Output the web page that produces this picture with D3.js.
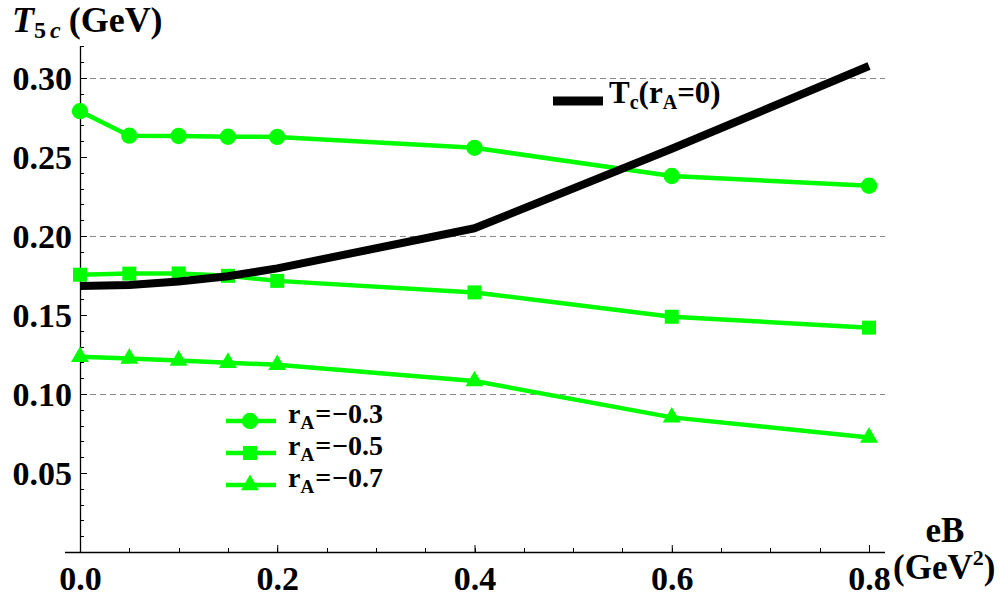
<!DOCTYPE html>
<html>
<head>
<meta charset="utf-8">
<script src="https://cdn.jsdelivr.net/npm/d3@7"></script>
<style>
  body { margin: 0; background: #fff; }
  svg text { font-family: "Liberation Serif", "Times New Roman", Times, serif; font-weight: bold; }
</style>
</head>
<body>
<div id="chart"></div>
<script>
(function() {
  'use strict';

  var eB = [0, 0.05, 0.1, 0.15, 0.2, 0.4, 0.6, 0.8];
  var rA03 = [0.279, 0.2635, 0.2633, 0.2628, 0.2627, 0.2558, 0.2380, 0.2318];
  var rA05 = [0.1755, 0.1762, 0.1763, 0.1748, 0.1716, 0.1643, 0.1489, 0.1420];
  var rA07 = [0.1235, 0.1225, 0.1212, 0.1198, 0.1185, 0.1082, 0.0852, 0.0725];
  var tc0  = [0.1684, 0.1690, 0.1712, 0.1745, 0.1795, 0.2049, 0.2552, 0.3076];
  var xTicks = [0, 0.2, 0.4, 0.6, 0.8];
  var yTicks = [0.05, 0.10, 0.15, 0.20, 0.25, 0.30];
  var gridY = [0.10, 0.20, 0.30];
  var legendLabels = ["\u22120.3", "\u22120.5", "\u22120.7"];

  var width = 1000;
  var height = 597;
  var green = "#00ff00";
  var serif = "'Liberation Serif', 'Times New Roman', Times, serif";

  var x = d3.scaleLinear().domain([0, 0.8]).range([80, 869]);
  var y = d3.scaleLinear().domain([0, 0.3]).range([552, 78]);

  var svg = d3.select("#chart")
    .append("svg")
    .attr("width", width)
    .attr("height", height);

  // grid lines
  svg.append("g")
    .selectAll("line")
    .data(gridY)
    .enter().append("line")
    .attr("x1", x(0))
    .attr("x2", 885)
    .attr("y1", function (d) { return Math.round(y(d)) + 0.5; })
    .attr("y2", function (d) { return Math.round(y(d)) + 0.5; })
    .attr("stroke", "#888")
    .attr("stroke-width", 1)
    .attr("stroke-dasharray", "6,4");

  // minor ticks
  var yMinor = d3.range(0.01, 0.325, 0.01);
  svg.append("g")
    .selectAll("line")
    .data(yMinor)
    .enter().append("line")
    .attr("x1", x(0))
    .attr("x2", x(0) + 4)
    .attr("y1", function (d) { return Math.round(y(d)) + 0.5; })
    .attr("y2", function (d) { return Math.round(y(d)) + 0.5; })
    .attr("stroke", "#000")
    .attr("stroke-width", 1);

  var xMinor = d3.range(0.05, 0.81, 0.05);
  svg.append("g")
    .selectAll("line")
    .data(xMinor)
    .enter().append("line")
    .attr("x1", function (d) { return Math.round(x(d)) + 0.5; })
    .attr("x2", function (d) { return Math.round(x(d)) + 0.5; })
    .attr("y1", y(0))
    .attr("y2", y(0) - 4)
    .attr("stroke", "#000")
    .attr("stroke-width", 1);

  // axes
  var yAxis = d3.axisLeft(y)
    .tickValues(yTicks)
    .tickFormat(d3.format(".2f"))
    .tickSizeInner(-7)
    .tickSizeOuter(0)
    .tickPadding(8);

  var gy = svg.append("g")
    .attr("transform", "translate(" + x(0) + ",0)")
    .call(yAxis);
  gy.select(".domain").remove();
  gy.selectAll("text")
    .attr("font-size", 34)
    .attr("font-family", serif)
    .attr("font-weight", "bold")
    .attr("fill", "#000")
    .attr("dy", "0.34em");

  var xAxis = d3.axisBottom(x)
    .tickValues(xTicks)
    .tickFormat(d3.format(".1f"))
    .tickSizeInner(-7)
    .tickSizeOuter(0)
    .tickPadding(10);

  var gx = svg.append("g")
    .attr("transform", "translate(0," + y(0) + ")")
    .call(xAxis);
  gx.select(".domain").remove();
  gx.selectAll("text")
    .attr("font-size", 34)
    .attr("font-family", serif)
    .attr("font-weight", "bold")
    .attr("fill", "#000")
    .attr("dy", "0.83em");

  svg.append("line")
    .attr("x1", x(0) + 0.5).attr("x2", x(0) + 0.5)
    .attr("y1", 46).attr("y2", y(0))
    .attr("stroke", "#000").attr("stroke-width", 1.3);

  svg.append("line")
    .attr("x1", 65).attr("x2", 885)
    .attr("y1", y(0) + 0.5).attr("y2", y(0) + 0.5)
    .attr("stroke", "#000").attr("stroke-width", 1.3);

  // series
  var line = d3.line()
    .x(function (d) { return x(d[0]); })
    .y(function (d) { return y(d[1]); });

  function pairs(vals) {
    return eB.map(function (v, i) { return [v, vals[i]]; });
  }

  var series = [
    { values: rA03, symbol: d3.symbolCircle, size: 210 },
    { values: rA05, symbol: d3.symbolSquare, size: 196 },
    { values: rA07, symbol: d3.symbolTriangle, size: 140 }
  ];

  series.forEach(function (s) {
    var pts = pairs(s.values);
    svg.append("path")
      .datum(pts)
      .attr("d", line)
      .attr("fill", "none")
      .attr("stroke", green)
      .attr("stroke-width", 4.5)
      .attr("stroke-linejoin", "round");

    svg.append("g")
      .selectAll("path")
      .data(pts)
      .enter().append("path")
      .attr("transform", function (d) {
        return "translate(" + x(d[0]) + "," + y(d[1]) + ")";
      })
      .attr("d", d3.symbol().type(s.symbol).size(s.size))
      .attr("fill", green);
  });

  svg.append("path")
    .datum(pairs(tc0))
    .attr("d", line)
    .attr("fill", "none")
    .attr("stroke", "#000")
    .attr("stroke-width", 8)
    .attr("stroke-linejoin", "round");

  // legend
  var leg = svg.append("g");
  series.forEach(function (s, i) {
    var ly = 421 + i * 32;
    leg.append("line")
      .attr("x1", 226).attr("x2", 276)
      .attr("y1", ly).attr("y2", ly)
      .attr("stroke", green).attr("stroke-width", 4.5);
    leg.append("path")
      .attr("transform", "translate(250," + ly + ")")
      .attr("d", d3.symbol().type(s.symbol).size(s.size))
      .attr("fill", green);
    var t = leg.append("text")
      .attr("x", 288).attr("y", ly + 2)
      .attr("font-family", serif)
      .attr("font-size", 28);
    t.append("tspan").text("r");
    t.append("tspan").attr("font-size", 19).attr("dy", 6).text("A");
    t.append("tspan").attr("dy", -6).attr("dx", 1).text("=");
    t.append("tspan").attr("dx", 1).text(legendLabels[i]);
  });

  // black line label
  svg.append("line")
    .attr("x1", 553).attr("x2", 603)
    .attr("y1", 101).attr("y2", 101)
    .attr("stroke", "#000").attr("stroke-width", 9);
  var tl = svg.append("text")
    .attr("x", 609).attr("y", 103)
    .attr("font-family", serif)
    .attr("font-size", 31);
  tl.append("tspan").text("T");
  tl.append("tspan").attr("font-size", 20).attr("dy", 6).text("c");
  tl.append("tspan").attr("dy", -6).text("(r");
  tl.append("tspan").attr("font-size", 20).attr("dy", 6).text("A");
  tl.append("tspan").attr("dy", -6).text("=0)");

  // axis titles
  var ty = svg.append("text")
    .attr("x", 12).attr("y", 32)
    .attr("font-family", serif)
    .attr("font-size", 36);
  ty.append("tspan").attr("font-style", "italic").text("T");
  ty.append("tspan").attr("font-size", 24).attr("dy", 6).attr("dx", 0).text("5");
  ty.append("tspan").attr("font-size", 24).attr("font-style", "italic").attr("dx", 4).text("c");
  ty.append("tspan").attr("dy", -6).attr("dx", -1).text(" (GeV)");

  svg.append("text")
    .attr("x", 945).attr("y", 542)
    .attr("font-family", serif)
    .attr("font-size", 35)
    .attr("text-anchor", "middle")
    .text("eB");

  var tx = svg.append("text")
    .attr("x", 893).attr("y", 579)
    .attr("font-family", serif)
    .attr("font-size", 35);
  tx.append("tspan").text("(GeV");
  tx.append("tspan").attr("font-size", 22).attr("dy", -14).text("2");
  tx.append("tspan").attr("dy", 14).text(")");
})();
</script>
</body>
</html>
